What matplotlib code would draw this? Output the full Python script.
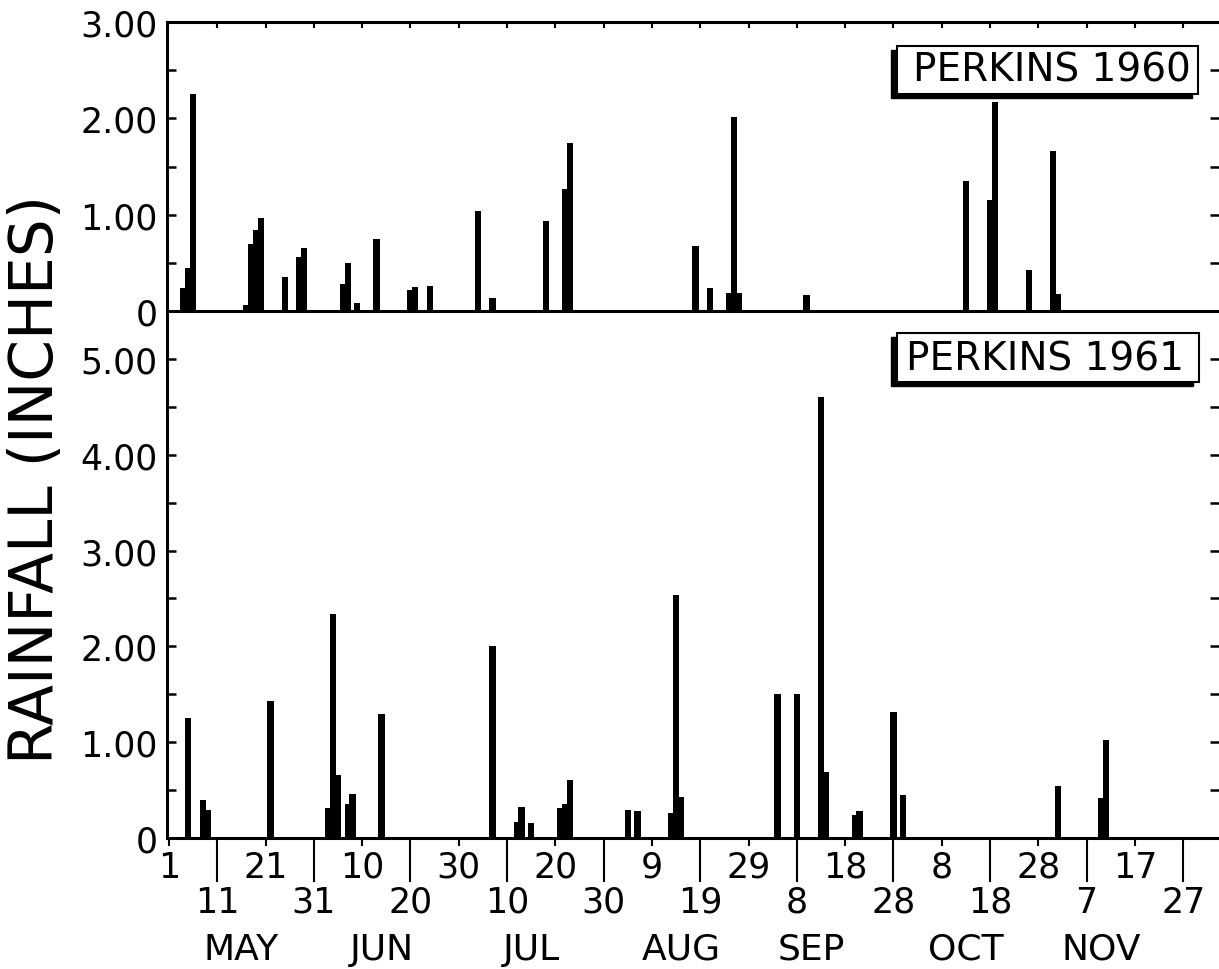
import matplotlib
matplotlib.use("Agg")
import matplotlib.pyplot as plt
import matplotlib.transforms as mtransforms
from matplotlib.patches import Rectangle
from matplotlib.ticker import MultipleLocator, FixedLocator, FixedFormatter, FuncFormatter

# Daily rainfall, days counted from May 1 (day 0), inches
days_1960 = [3, 4, 5, 16, 17, 18, 19, 24, 27, 28, 36, 37, 39, 43, 50, 51, 54,
             64, 67, 78, 82, 83, 109, 112, 116, 117, 118, 132, 165, 170, 171,
             178, 183, 184]
rain_1960 = [0.24, 0.45, 2.25, 0.06, 0.70, 0.84, 0.97, 0.35, 0.56, 0.65, 0.28,
             0.50, 0.08, 0.75, 0.22, 0.25, 0.26, 1.04, 0.13, 0.93, 1.27, 1.74,
             0.67, 0.24, 0.19, 2.01, 0.19, 0.17, 1.35, 1.15, 2.17, 0.43, 1.66,
             0.18]

days_1961 = [4, 7, 8, 21, 33, 34, 35, 37, 38, 44, 67, 72, 73, 75, 81, 82, 83,
             95, 97, 104, 105, 106, 126, 130, 135, 136, 142, 143, 150, 152,
             184, 193, 194]
rain_1961 = [1.25, 0.40, 0.29, 1.43, 0.31, 2.34, 0.66, 0.36, 0.46, 1.29, 2.00,
             0.17, 0.32, 0.16, 0.31, 0.36, 0.61, 0.29, 0.28, 0.26, 2.54, 0.43,
             1.50, 1.50, 4.60, 0.69, 0.24, 0.28, 1.32, 0.45, 0.54, 0.42, 1.02]

# x tick labels: upper row (days 0, 20, ...) and lower row (days 10, 30, ...)
row1_days = list(range(0, 201, 20))
row1_labels = ["1", "21", "10", "30", "20", "9", "29", "18", "8", "28", "17"]
row2_days = list(range(10, 211, 20))
row2_labels = ["11", "31", "20", "10", "30", "19", "8", "28", "18", "7", "27"]
months = ["MAY", "JUN", "JUL", "AUG", "SEP", "OCT", "NOV"]
month_days = [15, 44, 75, 106, 133, 165, 193]

W, H = 1219, 970
fig = plt.figure(figsize=(W / 100, H / 100), dpi=100)
plt.rcParams['font.family'] = ['DejaVu Sans']

left = 167 / W
width = 1 - left
ax1 = fig.add_axes([left, (H - 312) / H, width, 289 / H])
ax2 = fig.add_axes([left, (H - 839) / H, width, 527 / H])
ax1.set_zorder(2)
ax1.patch.set_visible(False)

fmt = FuncFormatter(lambda v, p: "0" if v == 0 else f"{v:.2f}")

for ax, d, r, top in [(ax1, days_1960, rain_1960, 3.0), (ax2, days_1961, rain_1961, 5.5)]:
    ax.bar(d, r, width=1.3, color="black", linewidth=0, zorder=3)
    ax.set_xlim(-0.4, 217.4)
    ax.set_ylim(0, top)
    ax.spines["right"].set_visible(False)
    for s in ax.spines.values():
        s.set_linewidth(2.2)
    ax.yaxis.set_major_locator(MultipleLocator(1))
    ax.yaxis.set_minor_locator(MultipleLocator(0.5))
    ax.yaxis.set_major_formatter(fmt)
    ax.tick_params(axis="y", which="both", direction="in", length=6.5, width=1.8,
                   left=True, right=True, labelsize=25, pad=7)

# top panel: ticks along the top only
ax1.set_xticks(range(10, 211, 10))
ax1.tick_params(axis="x", bottom=False, labelbottom=False, top=True,
                direction="in", length=4.5, width=1.5)

# bottom panel: staggered date labels
ax2.spines["top"].set_visible(False)
ax2.xaxis.set_major_locator(FixedLocator(row2_days))
ax2.xaxis.set_major_formatter(FixedFormatter(row2_labels))
ax2.xaxis.set_minor_locator(FixedLocator(row1_days))
ax2.xaxis.set_minor_formatter(FixedFormatter(row1_labels))
ax2.tick_params(axis="x", which="major", direction="out", length=31.5, width=1.5,
                labelsize=25, pad=2)
ax2.tick_params(axis="x", which="minor", direction="out", length=5.5, width=1.5,
                labelsize=25, pad=3)

trans = mtransforms.blended_transform_factory(ax2.transData, fig.transFigure)
for m, md in zip(months, month_days):
    ax2.text(md, (H - 950) / H, m, transform=trans, ha="center", va="center",
             fontsize=26)

fig.text(37 / W, (H - 480) / H, "RAINFALL (INCHES)", rotation=90,
         ha="center", va="center", fontsize=43)


def panel_label(ax, text, x0, y0, x1, y1, tx, ty):
    shadow = mtransforms.offset_copy(ax.transAxes, fig=fig, x=-6, y=-4, units="dots")
    ax.add_patch(Rectangle((x0, y0), x1 - x0, y1 - y0, transform=shadow,
                           facecolor="black", edgecolor="black", zorder=5))
    ax.add_patch(Rectangle((x0, y0), x1 - x0, y1 - y0, transform=ax.transAxes,
                           facecolor="white", edgecolor="black", linewidth=1.5,
                           zorder=6))
    ax.text(tx, ty, text, transform=ax.transAxes, ha="center", va="center",
            fontsize=28, zorder=7)


panel_label(ax1, "PERKINS 1960", 0.694, 0.751, 0.980, 0.917, 0.841, 0.835)
panel_label(ax2, "PERKINS 1961", 0.694, 0.865, 0.981, 0.958, 0.835, 0.910)

fig.savefig("out.png", dpi=100)
